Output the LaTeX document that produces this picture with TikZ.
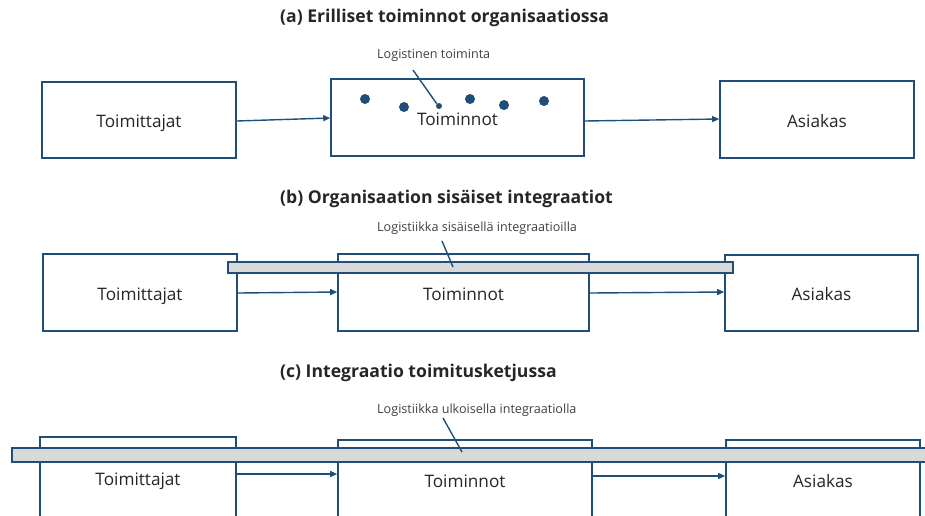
\documentclass[tikz,border=0pt]{standalone}
\usepackage{fontspec}
\setmainfont{Open Sans}
\usetikzlibrary{arrows.meta}
\definecolor{navy}{HTML}{1F4E79}
\definecolor{barfill}{HTML}{D9D9D9}
\definecolor{ink}{HTML}{262626}
\definecolor{labink}{HTML}{404040}
\begin{document}
\begin{tikzpicture}[x=1pt,y=-1pt,
  box/.style={draw=navy, line width=1.6pt, fill=white, inner sep=0pt,
    text height=15.5pt, text depth=0pt,
    font=\fontsize{17.2}{20}\selectfont, text=ink},
  flow/.style={draw=navy, line width=1.4pt, -{Triangle[length=7pt,width=6pt]}},
  bar/.style={draw=navy, line width=1.5pt, fill=barfill, inner sep=0pt},
  lead/.style={draw=navy, line width=1.4pt},
  title/.style={font=\fontsize{17.6}{20}\selectfont\bfseries, text=ink, anchor=west, inner sep=0pt},
  note/.style={font=\fontsize{12.6}{15}\selectfont, text=labink, anchor=west, inner sep=0pt},
  bigdot/.style={circle, fill=navy, inner sep=0pt, minimum size=10pt},
  smalldot/.style={circle, fill=navy, inner sep=0pt, minimum size=6pt}]

\useasboundingbox (0,0) rectangle (925,515);
\clip (0,0) rectangle (925,515);

% ---------- (a) separate functions ----------
\node[title] (ta) at (280,18) {(a) Erilliset toiminnot organisaatiossa};
\node[box, minimum width=194pt, minimum height=76pt] (sa) at (139,120) {Toimittajat};
\node[box, minimum width=253pt, minimum height=77pt] (oa) at (457.5,117.5) {Toiminnot};
\node[box, minimum width=194pt, minimum height=77pt] (ca) at (817,119.5) {Asiakas};
\draw[flow] (sa.east |- 0,121) -- (oa.west |- 0,118);
\draw[flow] (oa.east |- 0,121) -- (ca.west |- 0,119);
\node[bigdot] (d1) at (365,99) {};
\node[bigdot] (d2) at (404,107) {};
\node[smalldot] (d3) at (439,106) {};
\node[bigdot] (d4) at (470,99) {};
\node[bigdot] (d5) at (504,105) {};
\node[bigdot] (d6) at (544,101) {};
\node[note] (na) at (377,55) {Logistinen toiminta};
\coordinate (la) at (413,70);
\draw[lead] (la) -- (d3.north west);

% ---------- (b) internal integration ----------
\node[title] (tb) at (280,199) {(b) Organisaation sisäiset integraatiot};
\node[box, minimum width=194pt, minimum height=77pt] (sb) at (140,292.5) {Toimittajat};
\node[box, minimum width=251pt, minimum height=77pt] (ob) at (463.5,292.5) {Toiminnot};
\node[box, minimum width=193pt, minimum height=76pt] (cb) at (821.5,293) {Asiakas};
\draw[flow] (sb.east |- 0,293) -- (ob.west |- 0,292);
\draw[flow] (ob.east |- 0,293) -- (cb.west |- 0,292);
\node[bar, minimum width=505pt, minimum height=11pt] (bb) at (480.5,267.5) {};
\node[note] (nb) at (377,228) {Logistiikka sisäisellä integraatioilla};
\coordinate (lb) at (442,241);
\coordinate (eb) at (453,267);
\draw[lead] (lb) -- (eb);

% ---------- (c) supply chain integration ----------
\node[title] (tc) at (280,373) {(c) Integraatio toimitusketjussa};
\node[box, minimum width=196pt, minimum height=82pt] (sc) at (138,478) {Toimittajat};
\node[box, minimum width=254pt, minimum height=80pt] (oc) at (465,480) {Toiminnot};
\node[box, minimum width=194pt, minimum height=80pt] (cc) at (823,480) {Asiakas};
\draw[flow] (sc.east |- 0,474) -- (oc.west |- 0,474);
\draw[flow] (oc.east |- 0,476) -- (cc.west |- 0,476);
\node[bar, minimum width=923pt, minimum height=14pt] (bc) at (473.5,455) {};
\node[note] (nc) at (377,410) {Logistiikka ulkoisella integraatiolla};
\coordinate (lc) at (443,418);
\coordinate (ec) at (462,452);
\draw[lead] (lc) -- (ec);
\end{tikzpicture}
\end{document}
